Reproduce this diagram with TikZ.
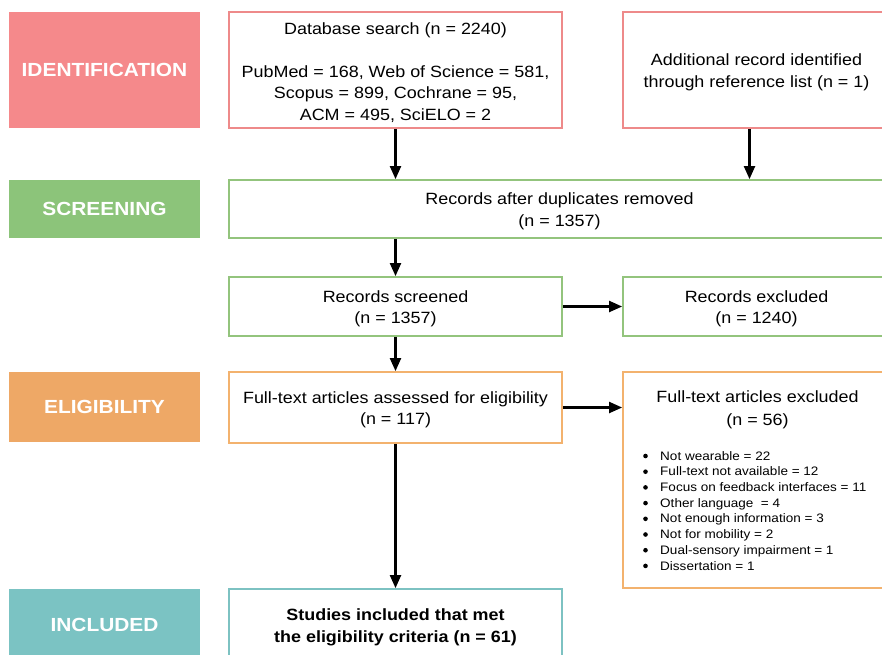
\documentclass[tikz,border=0pt]{standalone}
\usepackage{fontspec}
\setmainfont{Liberation Sans}[FakeStretch=1.1]
\usetikzlibrary{arrows.meta}
\definecolor{idc}{HTML}{F5898B}
\definecolor{scc}{HTML}{8CC47A}
\definecolor{elc}{HTML}{EEA866}
\definecolor{inc}{HTML}{7BC3C3}
\definecolor{idb}{HTML}{EE8A8A}
\definecolor{scb}{HTML}{93C47D}
\definecolor{elb}{HTML}{F3B26E}
\definecolor{inb}{HTML}{7DC2C2}
\tikzset{
  stage/.style={fill=#1, draw=none, text=white, font=\fontsize{19}{24}\selectfont\bfseries, inner sep=0pt},
  box/.style={draw=#1, line width=1.8pt, fill=white, inner sep=0pt},
  btext/.style={align=center, inner sep=0pt, yshift=-2.5pt, font=\fontsize{16.3}{21.5}\selectfont},
  arr/.style={line width=2.1pt, -{Triangle[width=11pt,length=13pt]}},
}
\begin{document}
\begin{tikzpicture}[x=1pt,y=-1pt]
\useasboundingbox (0,0) rectangle (882,654);
% stage labels
\node[stage=idc, minimum width=191pt, minimum height=116pt] (idl) at (104.5,70) {IDENTIFICATION};
\node[stage=scc, minimum width=191pt, minimum height=58pt] (scl) at (104.5,209) {SCREENING};
\node[stage=elc, minimum width=191pt, minimum height=70pt] (ell) at (104.5,407) {ELIGIBILITY};
\node[stage=inc, minimum width=191pt, minimum height=72pt] (inl) at (104.5,625) {INCLUDED};
% boxes
\node[box=idb, minimum width=333pt, minimum height=116pt] (db) at (395.5,70) {};
\node[btext] (dbt) at (db.center)
  {Database search (n = 2240)\\[21.5pt]
   PubMed = 168, Web of Science = 581,\\
   Scopus = 899, Cochrane = 95,\\
   ACM = 495, SciELO = 2};
\node[box=idb, minimum width=267pt, minimum height=116pt] (add) at (756.5,70) {};
\node[btext] (addt) at (add.center)
  {Additional record identified\\ through reference list (n = 1)};
\node[box=scb, minimum width=661pt, minimum height=58pt] (dup) at (559.5,209) {};
\node[btext] (dupt) at (dup.center) {Records after duplicates removed\\ (n = 1357)};
\node[box=scb, minimum width=333pt, minimum height=59pt] (scr) at (395.5,306.5) {};
\node[btext] (scrt) at (scr.center) {Records screened\\ (n = 1357)};
\node[box=scb, minimum width=267pt, minimum height=59pt] (exc) at (756.5,306.5) {};
\node[btext] (exct) at (exc.center) {Records excluded\\ (n = 1240)};
\node[box=elb, minimum width=333pt, minimum height=71pt] (ft) at (395.5,407.5) {};
\node[btext] (ftt) at (ft.center) {Full-text articles assessed for eligibility\\ (n = 117)};
\node[box=elb, minimum width=267pt, minimum height=216pt] (fte) at (756.5,480) {};
\node[align=center, inner sep=0pt, font=\fontsize{16.3}{23}\selectfont, anchor=north] (fteh) at (757.5,390)
  {Full-text articles excluded\\ (n = 56)};
\node[align=left, inner sep=0pt, anchor=north west, font=\fontsize{12.3}{15.7}\selectfont] (ftl) at (660,451)
  {Not wearable = 22\\
   Full-text not available = 12\\
   Focus on feedback interfaces = 11\\
   Other language \ = 4\\
   Not enough information = 3\\
   Not for mobility = 2\\
   Dual-sensory impairment = 1\\
   Dissertation = 1};
\foreach \i in {0,...,7}
  \fill (645.5,{456+15.7*\i}) circle (2.3pt);
\node[box=inb, minimum width=333pt, minimum height=72pt] (inc) at (395.5,625) {};
\node[btext, font=\fontsize{16.3}{21.5}\selectfont\bfseries] (inct) at (inc.center)
  {Studies included that met\\ the eligibility criteria (n = 61)};
% arrows
\draw[arr] (db.south) -- (db.south |- dup.north);
\draw[arr] ([xshift=-7pt]add.south) -- ([xshift=-7pt]add.south |- dup.north);
\draw[arr] (dup.south -| scr.north) -- (scr.north);
\draw[arr] (scr.east) -- (scr.east -| exc.west);
\draw[arr] (scr.south) -- (ft.north);
\draw[arr] (ft.east) -- (ft.east -| fte.west);
\draw[arr] (ft.south) -- (inc.north);
\end{tikzpicture}
\end{document}
